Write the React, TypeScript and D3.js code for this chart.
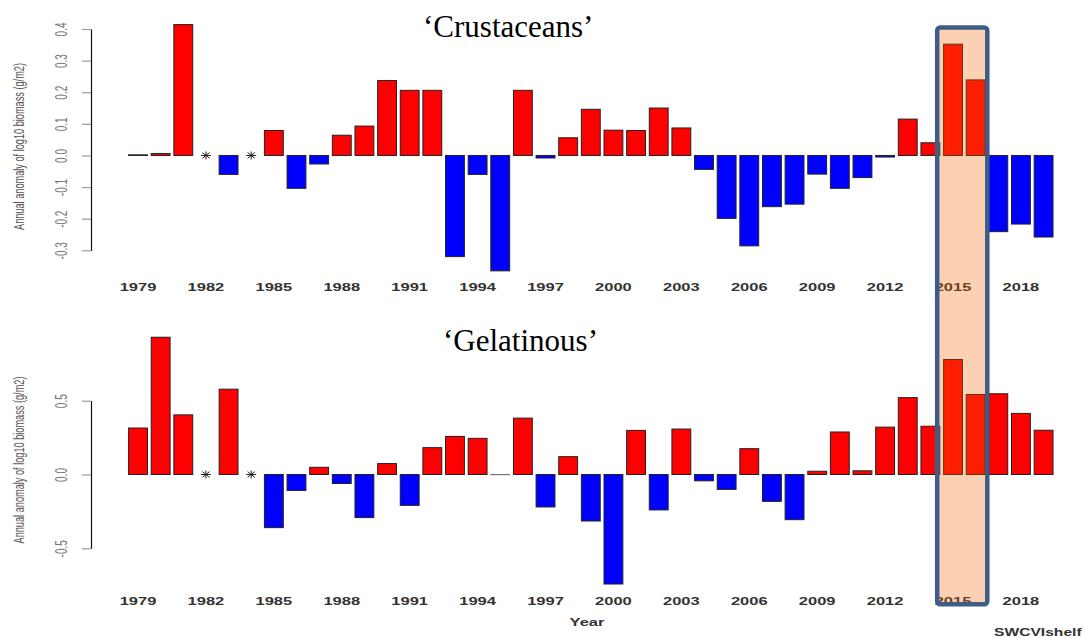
import React, { useEffect, useRef } from "react";
import * as d3 from "d3";

const years = [
  1979, 1980, 1981, 1982, 1983, 1984, 1985, 1986, 1987, 1988, 1989, 1990, 1991, 1992,
  1993, 1994, 1995, 1996, 1997, 1998, 1999, 2000, 2001, 2002, 2003, 2004, 2005, 2006,
  2007, 2008, 2009, 2010, 2011, 2012, 2013, 2014, 2015, 2016, 2017, 2018, 2019,
];

// null = missing year (drawn as asterisk)
const crustaceans: (number | null)[] = [
  0.002, 0.006, 0.414, null, -0.06, null, 0.079, -0.104, -0.027, 0.064, 0.093, 0.237, 0.206, 0.206,
  -0.32, -0.06, -0.365, 0.206, -0.008, 0.056, 0.146, 0.08, 0.079, 0.15, 0.087, -0.044, -0.199, -0.286,
  -0.162, -0.154, -0.059, -0.104, -0.07, -0.005, 0.115, 0.04, 0.352, 0.239, -0.241, -0.217, -0.258,
];

const gelatinous: (number | null)[] = [
  0.315, 0.93, 0.404, null, 0.578, null, -0.36, -0.108, 0.049, -0.061, -0.292, 0.074, -0.209, 0.182,
  0.258, 0.245, 0.0, 0.382, -0.22, 0.121, -0.315, -0.742, 0.299, -0.24, 0.308, -0.043, -0.101, 0.175,
  -0.182, -0.306, 0.022, 0.288, 0.025, 0.321, 0.521, 0.327, 0.779, 0.542, 0.547, 0.414, 0.3,
];

const crustTicks = [-0.3, -0.2, -0.1, 0.0, 0.1, 0.2, 0.3, 0.4];
const gelTicks = [-0.5, 0.0, 0.5];
const yearLabels = [1979, 1982, 1985, 1988, 1991, 1994, 1997, 2000, 2003, 2006, 2009, 2012, 2015, 2018];
const highlightYears = [2015, 2016];

const W = 1085;
const H = 637;
const AXIS_X = 91;

const x = d3
  .scaleBand<number>()
  .domain(years)
  .range([126.7, 1054.9])
  .paddingInner(0.2 / 1.2)
  .paddingOuter(0.2 / 2.4);

const yTop = d3.scaleLinear().domain([-0.3, 0.4]).range([250.3, 29]);
const yBot = d3.scaleLinear().domain([-0.5, 0.5]).range([548.3, 400.7]);

const LABEL_FONT = "'Liberation Sans', Arial, sans-serif";

function YAxis({ scale, ticks }: { scale: d3.ScaleLinear<number, number>; ticks: number[] }) {
  const ref = useRef<SVGGElement>(null);
  useEffect(() => {
    const g = d3.select(ref.current!);
    g.call(
      d3
        .axisLeft(scale)
        .tickValues(ticks)
        .tickSize(9)
        .tickSizeOuter(0)
        .tickFormat((d) => (d as number).toFixed(1))
    );
    g.attr("font-family", LABEL_FONT).attr("font-size", 10);
    g.select(".domain").attr("stroke", "#111").attr("stroke-width", 1.2);
    g.selectAll(".tick line").attr("stroke", "#9a9a9a").attr("stroke-width", 1.2);
    g.selectAll(".tick text")
      .attr("x", null)
      .attr("y", null)
      .attr("dy", null)
      .attr("fill", "#777")
      .attr("text-anchor", "middle")
      .attr("transform", "translate(-24.5,0) scale(1.7,1) rotate(-90)");
  }, [scale, ticks]);
  return <g ref={ref} transform={`translate(${AXIS_X},0)`} />;
}

function Panel({
  values,
  y,
  ticks,
  title,
  titleX,
  titleY,
  labelY,
  axisTitleY,
}: {
  values: (number | null)[];
  y: d3.ScaleLinear<number, number>;
  ticks: number[];
  title: string;
  titleX: number;
  titleY: number;
  labelY: number;
  axisTitleY: number;
}) {
  const bw = x.bandwidth();
  const y0 = y(0);
  return (
    <g>
      {values.map((v, i) => {
        const yr = years[i];
        const cx = (x(yr) as number) + bw / 2;
        if (v === null) {
          const r = 5;
          const rv = 4;
          const d = `M${cx - r},${y0}H${cx + r}M${cx},${y0 - rv}V${y0 + rv}M${cx - r * 0.72},${
            y0 - rv * 0.72
          }L${cx + r * 0.72},${y0 + rv * 0.72}M${cx - r * 0.72},${y0 + rv * 0.72}L${cx + r * 0.72},${
            y0 - rv * 0.72
          }`;
          return <path key={yr} d={d} stroke="#222" strokeWidth={1} fill="none" />;
        }
        const yv = y(v);
        const top = Math.min(yv, y0);
        const h = Math.max(Math.abs(yv - y0), 0.2);
        return (
          <rect
            key={yr}
            x={x(yr)}
            y={top}
            width={bw}
            height={h}
            fill={v >= 0 ? "#ff0000" : "#0000ff"}
            stroke={v === 0 ? "#777" : "#222"}
            strokeWidth={1}
          />
        );
      })}
      <YAxis scale={y} ticks={ticks} />
      <text
        transform={`translate(24,${axisTitleY}) scale(1.5,1) rotate(-90)`}
        textAnchor="middle"
        fontFamily={LABEL_FONT}
        fontSize={10}
        fill="#555"
        textLength={167}
        lengthAdjust="spacingAndGlyphs"
      >
        Annual anomaly of log10 biomass (g/m2)
      </text>
      {yearLabels.map((yr) => (
        <text
          key={yr}
          transform={`translate(${(x(yr) as number) + bw / 2},${labelY}) scale(1.5,1)`}
          textAnchor="middle"
          fontFamily={LABEL_FONT}
          fontWeight="bold"
          fontSize={11}
          fill="#333"
        >
          {yr}
        </text>
      ))}
      <text
        x={titleX}
        y={titleY}
        fontFamily="'Liberation Serif', 'Times New Roman', serif"
        fontSize={31}
        fill="#000"
      >
        {title}
      </text>
    </g>
  );
}

export default function App() {
  const bw = x.bandwidth();
  const hx0 = (x(highlightYears[0]) as number) - 6.4;
  const hx1 = (x(highlightYears[1]) as number) + bw + 2.2;
  const hy0 = 27.5;
  const hy1 = 604.2;
  return (
    <svg
      width={W}
      height={H}
      viewBox={`0 0 ${W} ${H}`}
      style={{ position: "absolute", left: 0, top: 0, background: "#fff" }}
    >
      <rect x={0} y={0} width={W} height={H} fill="#fff" />
      <Panel
        values={crustaceans}
        y={yTop}
        ticks={crustTicks}
        title="‘Crustaceans’"
        titleX={423}
        titleY={37}
        labelY={290.6}
        axisTitleY={146.5}
      />
      <Panel
        values={gelatinous}
        y={yBot}
        ticks={gelTicks}
        title="‘Gelatinous’"
        titleX={443}
        titleY={351}
        labelY={604.6}
        axisTitleY={460}
      />
      <text
        transform={`translate(587,626) scale(1.5,1)`}
        textAnchor="middle"
        fontFamily={LABEL_FONT}
        fontWeight="bold"
        fontSize={11}
        fill="#333"
      >
        Year
      </text>
      <text
        transform={`translate(994,636) scale(1.42,1)`}
        fontFamily={LABEL_FONT}
        fontWeight="bold"
        fontSize={11}
        fill="#333"
      >
        SWCVIshelf
      </text>
      <rect
        x={hx0}
        y={hy0}
        width={hx1 - hx0}
        height={hy1 - hy0}
        fill="rgb(245,98,0)"
        fillOpacity={0.3}
      />
      <rect
        x={hx0}
        y={hy0}
        width={hx1 - hx0}
        height={hy1 - hy0}
        rx={3}
        fill="none"
        stroke="#3d5c88"
        strokeWidth={4.5}
      />
    </svg>
  );
}
